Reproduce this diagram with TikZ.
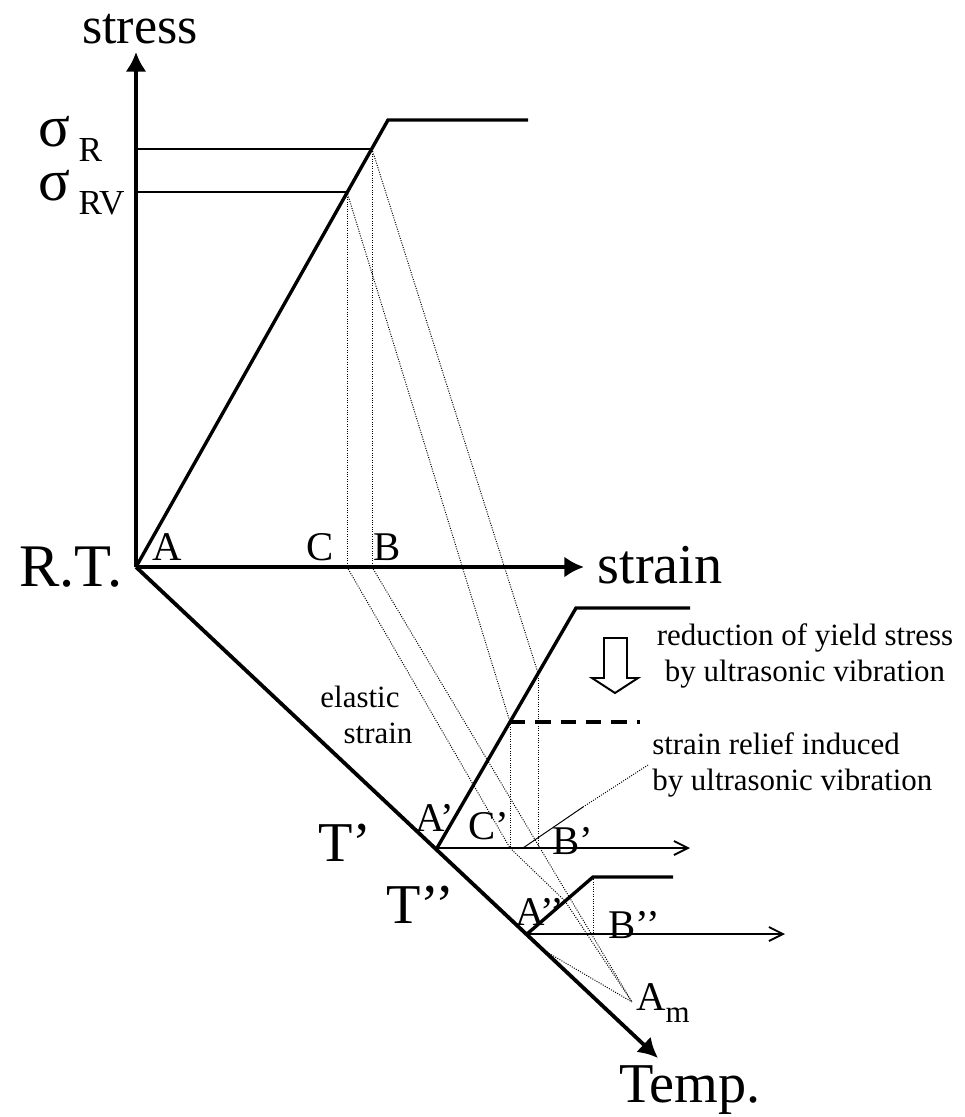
\documentclass[tikz,border=0pt]{standalone}
\usepackage{fontspec}
\setmainfont{Liberation Serif}
\usetikzlibrary{arrows.meta}
\newcommand\lblbig{\fontsize{40}{44}\selectfont}
\newcommand\lblsig{\fontsize{42}{46}\selectfont}
\newcommand\lblsub{\fontsize{25}{29}\selectfont}
\newcommand\lblmid{\fontsize{29}{33}\selectfont}
\newcommand\lblsmall{\fontsize{22}{26}\selectfont}
\tikzset{
  axisline/.style={line width=2.7pt, -{Latex[length=14pt, width=15pt]}},
  curveline/.style={line width=2.4pt},
  subaxis/.style={line width=1.3pt, -{Straight Barb[length=10pt, width=10pt]}},
  levelline/.style={line width=1.4pt},
  projline/.style={line width=0.7pt, densely dotted},
  bigtext/.style={font=\lblbig, inner sep=0pt},
  pointlbl/.style={font=\lblmid, inner sep=0pt},
  notetext/.style={font=\lblsmall, inner sep=0pt}
}
\begin{document}
\begin{tikzpicture}[x=0.025cm, y=-0.025cm]
  \useasboundingbox (0,0) rectangle (965,1117);
  % axes at room temperature
  \coordinate (O) at (136,567);
  \coordinate (stressTip) at (136,52);
  \coordinate (strainTip) at (584,567);
  \coordinate (tempTip) at (658,1058);
  \draw[axisline] (O) -- (stressTip);
  \draw[axisline] (O) -- (strainTip);
  \draw[axisline] (O) -- (tempTip);
  \node[bigtext, font=\fontsize{37}{41}\selectfont, anchor=base] (stressLbl) at (140,44) {stress};
  \node[bigtext] (strainLbl) at (660,565) {strain};
  \node[bigtext, font=\fontsize{43}{47}\selectfont] (rtLbl) at (71,567) {R.T.};
  \node[bigtext] (tempLbl) at (690,1090) {Temp.};

  % stress-strain curve at R.T.
  \coordinate (yieldR) at (388,120);
  \coordinate (flatR) at (528,120);
  \coordinate (P1) at (347,192);
  \coordinate (P2) at (372,149);
  \coordinate (C) at (347,567);
  \coordinate (B) at (372,567);
  \coordinate (sigRax) at (136,149);
  \coordinate (sigRVax) at (136,192);
  \draw[curveline] (O) -- (yieldR) -- (flatR);
  \draw[levelline] (sigRax) -- (P2);
  \draw[levelline] (sigRVax) -- (P1);
  \node[font=\lblsig, inner sep=0pt, anchor=base west] (sigR) at (38,146)
    {σ\hspace{6pt}\raisebox{-11pt}{\lblsub R}};
  \node[font=\lblsig, inner sep=0pt, anchor=base west] (sigRV) at (38,200)
    {σ\hspace{6pt}\raisebox{-10pt}{\lblsub RV}};
  \node[pointlbl] (Albl) at (167,547) {A};
  \node[pointlbl] (Clbl) at (320,547) {C};
  \node[pointlbl] (Blbl) at (387,547) {B};

  % curve at T'
  \coordinate (A1) at (437,848);
  \coordinate (yield1) at (576,608);
  \coordinate (flat1) at (690,608);
  \coordinate (Q1) at (510,722);
  \coordinate (Q2) at (538,673);
  \coordinate (C1) at (510,848);
  \coordinate (B1) at (538,848);
  \coordinate (axis1) at (690,848);
  \coordinate (dashEnd) at (640,722);
  \draw[curveline] (A1) -- (yield1) -- (flat1);
  \draw[subaxis] (A1) -- (axis1);
  \draw[line width=2.2pt, dash pattern=on 11pt off 7pt] (Q1) -- (dashEnd);
  \node[bigtext] (T1lbl) at (345,843) {T’};
  \node[pointlbl] (A1lbl) at (435,818) {A’};
  \node[pointlbl] (C1lbl) at (489,826) {C’};
  \node[pointlbl] (B1lbl) at (573,841) {B’};

  % curve at T''
  \coordinate (A2) at (527,934);
  \coordinate (yield2) at (593,877);
  \coordinate (flat2) at (673,877);
  \coordinate (B2) at (593,934);
  \coordinate (K) at (565,901);
  \coordinate (axis2) at (785,934);
  \draw[curveline] (A2) -- (yield2) -- (flat2);
  \draw[subaxis] (A2) -- (axis2);
  \node[bigtext] (T2lbl) at (420,905) {T’’};
  \node[pointlbl] (A2lbl) at (540,912) {A’’};
  \node[pointlbl] (B2lbl) at (634,925) {B’’};

  % projection lines
  \coordinate (Am) at (632,1002);
  \coordinate (W) at (545,951);
  \draw[projline] (P1) -- (C);
  \draw[projline] (P2) -- (B);
  \draw[projline] (P1) -- (Q1);
  \draw[projline] (P2) -- (Q2);
  \draw[projline] (Q1) -- (C1);
  \draw[projline] (Q2) -- (B1);
  \draw[projline] (yield2) -- (B2);
  \draw[projline] (C) -- (C1) -- (K);
  \draw[projline] (K) -- (Am);
  \draw[projline] (B) -- (Am);
  \draw[projline] (W) -- (Am);
  \node[pointlbl, anchor=west] (Amlbl) at (636,1003) {A\raisebox{-8pt}{\lblsmall m}};

  % notes
  \node[notetext] (elastic1) at (360,697) {elastic};
  \node[notetext] (elastic2) at (378,733) {strain};
  \draw[line width=1.4pt, fill=white] (604,638) -- (604,678) -- (592,678) -- (615,693)
    -- (638,678) -- (627,678) -- (627,638) -- cycle;
  \node[notetext, align=center] (reductionLbl) at (805,656)
    {reduction of yield stress\\by ultrasonic vibration};
  \coordinate (relief0) at (523,848);
  \coordinate (relief1) at (583,807);
  \coordinate (relief2) at (648,765);
  \draw[line width=0.7pt] (relief0) -- (relief1);
  \draw[projline] (relief1) -- (relief2);
  \node[notetext, align=left, anchor=west] (reliefLbl) at (652,765)
    {strain relief induced\\by ultrasonic vibration};
\end{tikzpicture}
\end{document}
